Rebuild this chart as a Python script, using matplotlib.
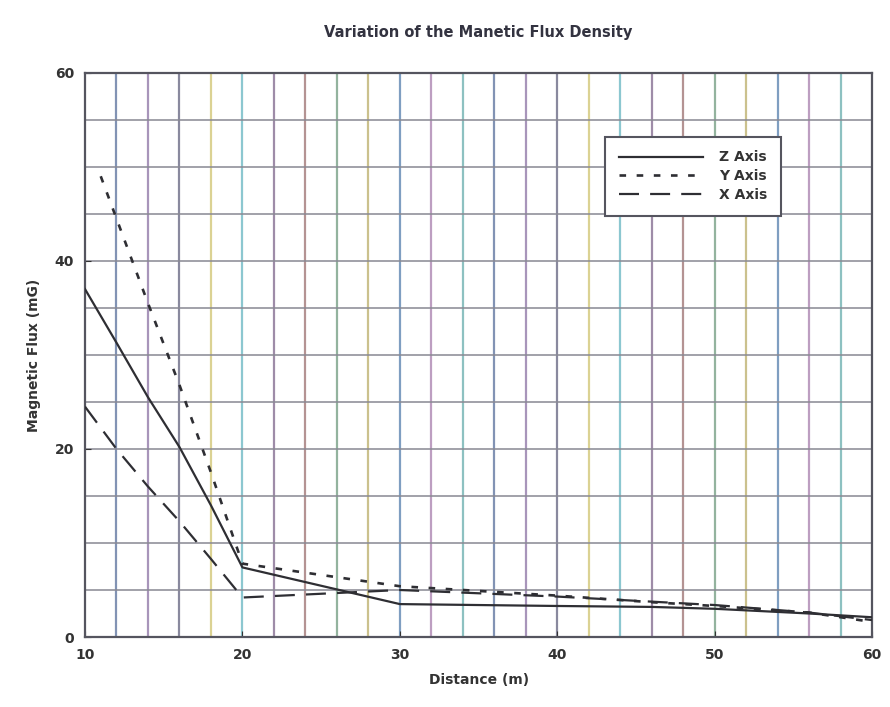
import matplotlib.pyplot as plt
import numpy as np

# distance (m) and flux (mG) for each sensor axis
z_dist = [10, 12, 14, 16, 18, 20, 30, 40, 46, 50, 56, 60]
z_flux = [37.0, 31.3, 25.5, 20.2, 14.0, 7.4, 3.5, 3.3, 3.2, 3.0, 2.5, 2.1]

y_dist = [11, 12, 14, 16, 18, 20, 30, 40, 46, 50, 56, 60]
y_flux = [49.0, 44.5, 35.5, 26.8, 17.5, 7.8, 5.4, 4.4, 3.7, 3.3, 2.6, 1.6]

x_dist = [10, 12, 14, 16, 18, 20, 30, 40, 50, 56, 60]
x_flux = [24.5, 20.0, 16.0, 12.3, 8.3, 4.2, 5.0, 4.3, 3.4, 2.6, 1.8]

x_ticks = [10, 20, 30, 40, 50, 60]
y_ticks = [0, 20, 40, 60]

grid_cols = ['#3f5a8c', '#7a5c96', '#4a4a6a', '#c9bb5a', '#4fa9b8', '#6b4f7a',
             '#8c5a5a', '#5a8a6a', '#b0a050', '#3a6aa0', '#9a6aa0', '#50a0a0']

fig = plt.figure(figsize=(8.9, 7.07), dpi=100)
ax = fig.add_axes([0.0955, 0.099, 0.8845, 0.798])

# coloured vertical grid every 2 m
for i, gx in enumerate(np.arange(12, 60, 2)):
    ax.axvline(gx, color=grid_cols[i % len(grid_cols)], lw=1.6, alpha=0.65, zorder=1)
# grey horizontal grid every 5 mG
for gy in np.arange(5, 60, 5):
    ax.axhline(gy, color='#8a8a94', lw=1.4, alpha=0.8, zorder=1)

ax.plot(z_dist, z_flux, color='#2e2e33', lw=1.6, label='Z Axis', zorder=3)
ax.plot(y_dist, y_flux, color='#2e2e33', lw=1.9, ls=(0, (2.5, 4)), label='Y Axis', zorder=3)
ax.plot(x_dist, x_flux, color='#2e2e33', lw=1.6, ls=(0, (9, 5)), label='X Axis', zorder=3)

ax.set_xlim(10, 60)
ax.set_ylim(0, 60)
ax.set_xticks(x_ticks)
ax.set_yticks(y_ticks)
ax.tick_params(direction='in', length=4, labelsize=10, colors='#333333', pad=8)
for lab in ax.get_xticklabels() + ax.get_yticklabels():
    lab.set_fontweight('bold')
for sp in ax.spines.values():
    sp.set_color('#55555f')
    sp.set_linewidth(1.6)

ax.set_title('Variation of the Manetic Flux Density', fontsize=10.5,
             fontweight='bold', color='#333340', pad=26)
ax.set_xlabel('Distance (m)', fontsize=10, fontweight='bold', color='#333333', labelpad=8)
ax.set_ylabel('Magnetic Flux (mG)', fontsize=10, fontweight='bold', color='#333333', labelpad=10)

leg = ax.legend(loc='upper left', bbox_to_anchor=(0.661, 0.887), borderaxespad=0,
                fancybox=False, edgecolor='#55555f', framealpha=1, fontsize=10,
                handlelength=6, handletextpad=1.2, borderpad=1.0, labelspacing=0.35)
leg.get_frame().set_linewidth(1.5)
for t in leg.get_texts():
    t.set_fontweight('bold')
    t.set_color('#333333')

fig.savefig('out.png', dpi=100)
